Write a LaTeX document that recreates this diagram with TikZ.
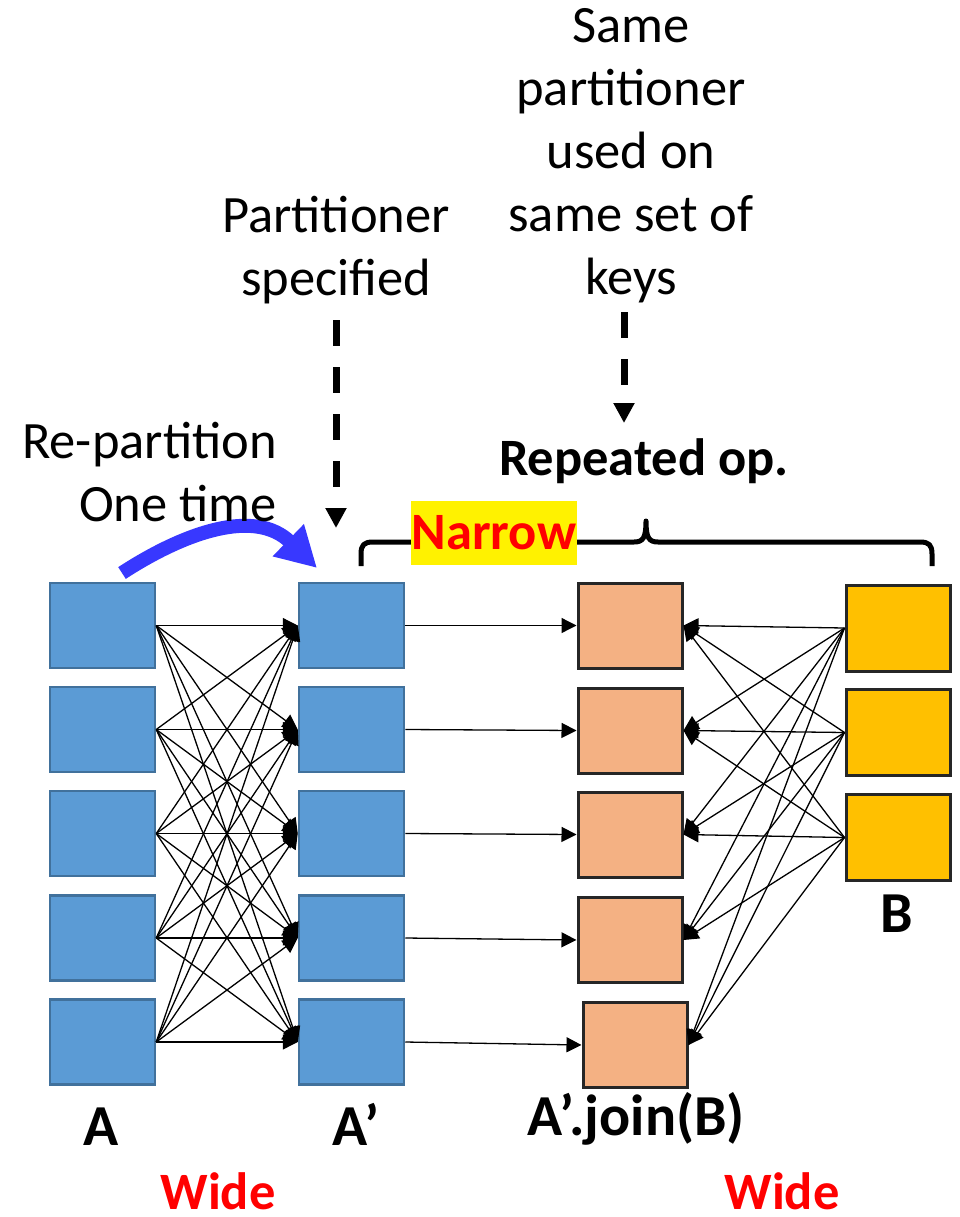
\documentclass[tikz,border=0pt]{standalone}
\usepackage{fontspec}
\setmainfont{Carlito}
\usetikzlibrary{arrows.meta}
\definecolor{partblue}{RGB}{91,155,213}
\definecolor{partedge}{RGB}{65,113,156}
\definecolor{joinfill}{RGB}{244,177,131}
\definecolor{bfill}{RGB}{255,192,0}
\definecolor{curveblue}{RGB}{56,56,255}
\definecolor{hotred}{RGB}{255,0,0}
\begin{document}
\begin{tikzpicture}[x=1pt,y=-1pt,
  ablock/.style={draw=partedge, line width=2.5pt, fill=partblue,
    minimum width=105pt, minimum height=85pt, inner sep=0pt},
  jblock/.style={draw=black!85, line width=3pt, fill=joinfill,
    minimum width=104pt, minimum height=85pt, inner sep=0pt},
  bblock/.style={draw=black!85, line width=3pt, fill=bfill,
    minimum width=104pt, minimum height=86pt, inner sep=0pt},
  link/.style={line width=1.3pt, -{Triangle[length=15pt,width=15pt]}},
  dashlink/.style={line width=7pt, dash pattern=on 26pt off 21pt,
    -{Triangle[length=20pt,width=20pt]}},
  note/.style={inner sep=0pt, align=center, font=\fontsize{52.5}{63}\selectfont},
  bigbold/.style={inner sep=0pt, anchor=base, font=\fontsize{58}{62}\selectfont\bfseries},
  midbold/.style={inner sep=0pt, anchor=base, font=\fontsize{52.5}{60}\selectfont\bfseries},
]
\useasboundingbox (0,0) rectangle (960,1217);

% partitions of A and A'
\foreach \i/\y in {1/625.5,2/729.5,3/833.5,4/938,5/1042}{
  \node[ablock] (a\i) at (102.5,\y) {};
  \node[ablock] (p\i) at (351.5,\y) {};
}
% partitions of the join result
\node[jblock] (j1) at (630,625.5) {};
\node[jblock] (j2) at (630,730.5) {};
\node[jblock] (j3) at (630,834.5) {};
\node[jblock] (j4) at (630,940) {};
\node[jblock] (j5) at (635,1045) {};
% partitions of B
\node[bblock] (b1) at (898,628) {};
\node[bblock] (b2) at (898,732.5) {};
\node[bblock] (b3) at (898,837.5) {};

% shuffle A -> A'
\foreach \i in {1,...,5}{
  \foreach \j in {1,...,5}{
    \draw[link] (a\i.east) -- (p\j.west);
  }
}
% narrow dependency A' -> join
\foreach \i in {1,...,5}{
  \draw[link] (p\i.east) -- (j\i.west);
}
% shuffle B -> join
\foreach \k in {1,2,3}{
  \foreach \i in {1,...,5}{
    \draw[link] (b\k.west) -- (j\i.east);
  }
}

% repartition arrow
\coordinate (rs) at (122,573);
\coordinate (re) at (317,568);
\draw[line width=14pt, curveblue, -{Triangle[length=40pt,width=42pt]}]
  (rs) .. controls (185,532) and (255,508) .. (re);

% annotations
\node[note, align=right, anchor=north east] (repart) at (277,422)
  {Re-partition\\One time};
\node[note, anchor=north] (pspec) at (336,196) {Partitioner\\specified};
\node[note, anchor=north] (same) at (631,8)
  {Same\\partitioner\\used on\\same set of\\keys};

\coordinate (d1s) at (336,320);
\coordinate (d1e) at (336,528);
\draw[dashlink] (d1s) -- (d1e);
\coordinate (d2s) at (624,312);
\coordinate (d2e) at (624,423);
\draw[dashlink] (d2s) -- (d2e);

\node[midbold] (rep) at (644,475) {Repeated op.};

% brace over the narrow stage
\draw[line width=5pt, line join=round]
  (361,566) -- (361,554) .. controls (361,545) and (364,542) .. (373,542)
  -- (634,542) .. controls (643,542) and (646,538) .. (646,521)
  .. controls (646,538) and (649,542) .. (658,542)
  -- (920,542) .. controls (929,542) and (932,545) .. (932,554) -- (932,566);
\node[fill=yellow, minimum width=166pt, minimum height=64pt, inner sep=0pt,
  text=hotred, font=\fontsize{52.5}{60}\selectfont\bfseries] (narrow) at (494,533) {Narrow};

% labels
\node[bigbold] (la) at (101,1145) {A};
\node[bigbold] (lap) at (356,1145) {A’};
\node[bigbold] (lj) at (636,1135) {A’.join(B)};
\node[bigbold] (lb) at (897,932) {B};
\node[midbold, text=hotred] (w1) at (218,1209) {Wide};
\node[midbold, text=hotred] (w2) at (782,1209) {Wide};
\end{tikzpicture}
\end{document}
